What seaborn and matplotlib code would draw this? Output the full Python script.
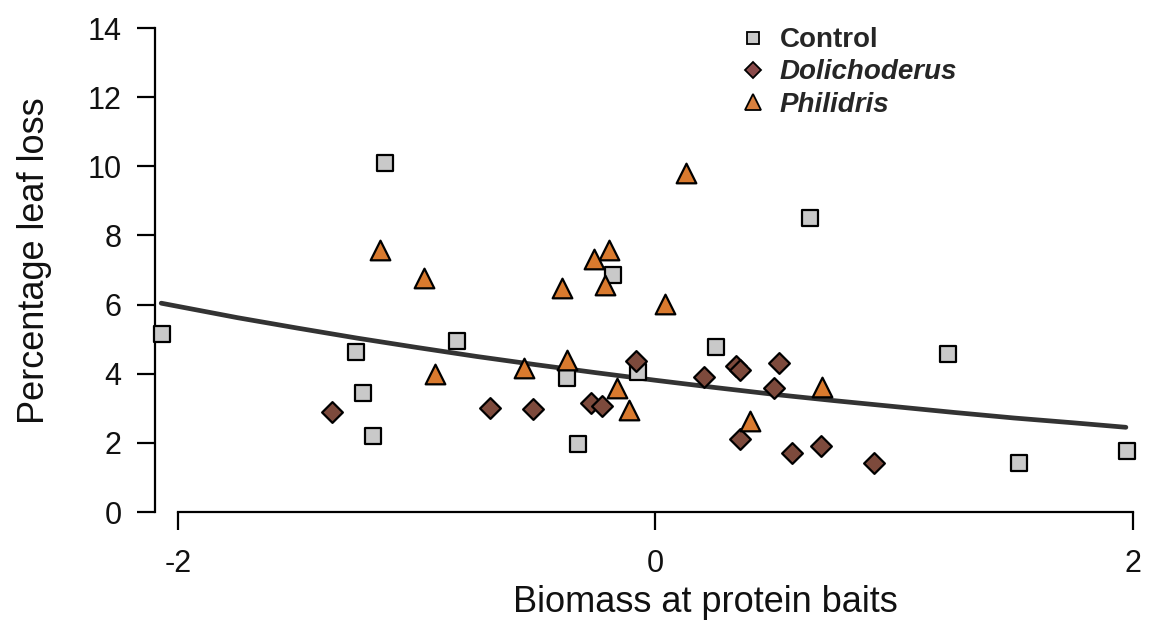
import numpy as np
import pandas as pd
import matplotlib
matplotlib.use("Agg")
import matplotlib.pyplot as plt
import seaborn as sns
from matplotlib.lines import Line2D

# ---- data ----
control_x = [-1.132, -2.068, -1.255, -0.831, -1.227, -1.181, -0.180, 0.253,
             -0.369, -0.074, -0.323, 0.648, 1.224, 1.523, 1.973]
control_y = [10.10, 5.15, 4.64, 4.96, 3.45, 2.20, 6.86, 4.76,
             3.87, 4.06, 1.97, 8.49, 4.57, 1.43, 1.77]

dolich_x = [-1.356, -0.692, -0.512, -0.272, -0.222, -0.082, 0.205, 0.336,
            0.355, 0.518, 0.498, 0.355, 0.571, 0.692, 0.917]
dolich_y = [2.89, 3.00, 2.99, 3.16, 3.07, 4.38, 3.90, 4.22,
            4.11, 4.30, 3.58, 2.10, 1.70, 1.91, 1.43]

phil_x = [-1.155, -0.968, -0.923, 0.127, -0.193, -0.257, -0.211, -0.392,
          0.038, -0.552, -0.372, -0.162, -0.113, 0.397, 0.699]
phil_y = [7.58, 6.76, 3.99, 9.80, 7.58, 7.32, 6.57, 6.49,
          6.02, 4.16, 4.40, 3.58, 2.95, 2.64, 3.62]

groups = ["Control", "Dolichoderus", "Philidris"]

# fitted curve, read at several x positions
curve_x = [-2.07, -1.75, -1.5, -1.25, -1.0, -0.75, -0.5, -0.25, 0.0,
           0.25, 0.5, 0.75, 1.0, 1.25, 1.5, 1.75, 1.97]
curve_y = [6.04, 5.62, 5.32, 5.03, 4.76, 4.50, 4.26, 4.03, 3.81,
           3.60, 3.40, 3.22, 3.05, 2.88, 2.72, 2.58, 2.45]

xticks = [-2, 0, 2]
yticks = [0, 2, 4, 6, 8, 10, 12, 14]

# ---- build table ----
df = pd.DataFrame({
    "x": control_x + dolich_x + phil_x,
    "y": control_y + dolich_y + phil_y,
    "group": [groups[0]] * len(control_x) + [groups[1]] * len(dolich_x) + [groups[2]] * len(phil_x),
})
curve = pd.DataFrame({"x": curve_x, "y": curve_y})

sns.set_style("white")
plt.rcParams["font.family"] = ["Liberation Sans", "DejaVu Sans"]

fig = plt.figure(figsize=(11.51, 6.27), dpi=100)
ax = fig.add_axes([155 / 1151, 115 / 627, 990 / 1151, 484 / 627])

colors = {"Control": "#c9c9c9", "Dolichoderus": "#7d4a3c", "Philidris": "#d97a2e"}
markers = {"Control": "s", "Dolichoderus": "D", "Philidris": "^"}
sizes = {"Control": 120, "Dolichoderus": 112, "Philidris": 200}

sns.lineplot(data=curve, x="x", y="y", ax=ax, color="#333333", lw=3.4, zorder=2)

for g in groups:
    sub = df[df["group"] == g]
    sns.scatterplot(data=sub, x="x", y="y", ax=ax, color=colors[g], marker=markers[g],
                    s=sizes[g], edgecolor="black", linewidth=1.6, zorder=3,
                    clip_on=False, legend=False)

ax.set_xlim(-2.096, 2.050)
ax.set_ylim(0, 14)
ax.set_xticks(xticks)
ax.set_yticks(yticks)
ax.set_xticklabels([str(t) for t in xticks])
ax.set_yticklabels([str(t) for t in yticks])

for s in ["top", "right"]:
    ax.spines[s].set_visible(False)
for s in ["left", "bottom"]:
    ax.spines[s].set_color("black")
    ax.spines[s].set_linewidth(1.6)
ax.spines["bottom"].set_bounds(-2, 2)
ax.spines["left"].set_bounds(0, 14)

ax.tick_params(axis="y", direction="out", length=13, width=1.6, color="black",
               labelsize=22, pad=11, left=True, labelcolor="#111111")
ax.tick_params(axis="x", direction="out", length=13, width=1.6, color="black",
               labelsize=22, pad=14, bottom=True, labelcolor="#111111")

ax.set_xlabel("Biomass at protein baits", fontsize=26, color="#111111")
ax.set_ylabel("Percentage leaf loss", fontsize=26, color="#111111")
ax.xaxis.set_label_coords(0.556, -0.150)
ax.yaxis.set_label_coords(-0.104, 0.52)

handles = [
    Line2D([], [], linestyle="none", marker="s", markersize=8.5, markerfacecolor=colors["Control"],
           markeredgecolor="black", markeredgewidth=1.3),
    Line2D([], [], linestyle="none", marker="D", markersize=8.5, markerfacecolor="#8a4a4a",
           markeredgecolor="black", markeredgewidth=1.3),
    Line2D([], [], linestyle="none", marker="^", markersize=11, markerfacecolor="#d9803e",
           markeredgecolor="black", markeredgewidth=1.3),
]
leg = ax.legend(handles, groups, loc="upper left", bbox_to_anchor=(0.576, 1.03),
                frameon=False, handlelength=1.0, handletextpad=0.45, labelspacing=0.22,
                borderpad=0, prop={"size": 20, "weight": "bold"})
texts = leg.get_texts()
texts[1].set_fontstyle("italic")
texts[2].set_fontstyle("italic")

fig.savefig("out.png", dpi=100)
